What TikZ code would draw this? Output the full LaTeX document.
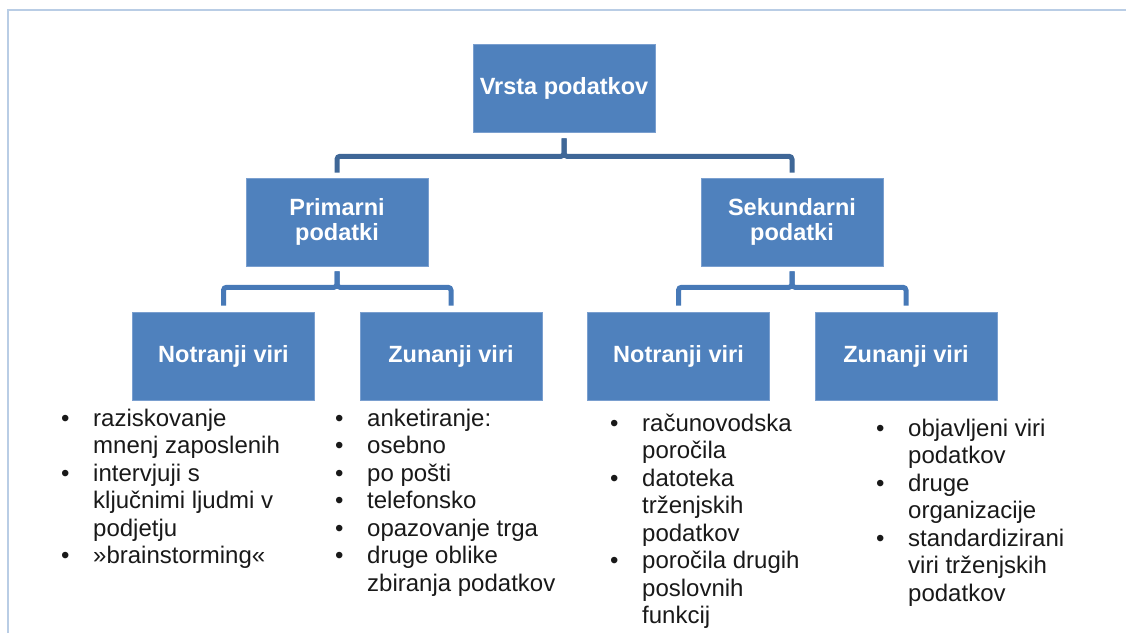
\documentclass[tikz,border=0pt]{standalone}
\usepackage{fontspec}
\setmainfont{Liberation Sans}
\usepackage{tikz}
\usetikzlibrary{positioning}

\definecolor{boxblue}{HTML}{4F81BD}
\definecolor{boxedge}{HTML}{7A9FCF}
\definecolor{toplink}{HTML}{3F6797}
\definecolor{lowlink}{HTML}{4779B7}
\definecolor{framecol}{HTML}{B9CDE5}

\newcommand{\itm}{\makebox[32pt][l]{\textbullet}}

\begin{document}
\begin{tikzpicture}[x=1pt,y=-1pt,node distance=227.5pt,
 box/.style={rectangle,draw=boxedge,line width=0.6pt,fill=boxblue,text=white,
   minimum width=182pt,minimum height=88pt,align=center,inner sep=0pt,
   font=\fontsize{23.5}{25.5}\selectfont\bfseries},
 list/.style={anchor=base west,inner sep=0pt,text=black!90,
   font=\fontsize{24}{27.5}\selectfont},
 top link/.style={draw=toplink,line width=5pt,rounded corners=3pt},
 low link/.style={draw=lowlink,line width=5pt,rounded corners=3pt}]
  \useasboundingbox (0,0) rectangle (1126,633);
  \draw[framecol,line width=2.5pt] (8,633) -- (8,10) -- (1126,10);

  \node[box] (1) at (564,88) {Vrsta podatkov};
  \node[box] (2) at (337,222) {Primarni\\podatki};
  \node[box] (3) [right of=2,node distance=455pt] {Sekundarni\\podatki};
  \node[box] (4) at (223.5,356) {Notranji viri};
  \node[box] (5) [right of=4] {Zunanji viri};
  \node[box] (6) [right of=5] {Notranji viri};
  \node[box] (7) [right of=6] {Zunanji viri};

  \foreach \s/\t in {1/2, 1/3} {
   \draw[top link] ([yshift=-6pt]\s.south) -- ([yshift=-24pt]\s.south) -| ([yshift=5pt]\t.north);}
  \foreach \s/\t in {2/4, 2/5, 3/6, 3/7} {
   \draw[low link] ([yshift=-5pt]\s.south) -- ([yshift=-21pt]\s.south) -| ([yshift=6pt]\t.north);}

  \node[list] (8) at (61,426) {\begin{tabular}[t]{@{}l@{}l@{}}
    \itm & raziskovanje\\ & mnenj zaposlenih\\
    \itm & intervjuji s\\ & ključnimi ljudmi v\\ & podjetju\\
    \itm & »brainstorming«\end{tabular}};
  \node[list] (9) at (335,426) {\begin{tabular}[t]{@{}l@{}l@{}}
    \itm & anketiranje:\\ \itm & osebno\\ \itm & po pošti\\
    \itm & telefonsko\\ \itm & opazovanje trga\\
    \itm & druge oblike\\ & zbiranja podatkov\end{tabular}};
  \node[list] (10) at (610,431) {\begin{tabular}[t]{@{}l@{}l@{}}
    \itm & računovodska\\ & poročila\\
    \itm & datoteka\\ & trženjskih\\ & podatkov\\
    \itm & poročila drugih\\ & poslovnih\\ & funkcij\end{tabular}};
  \node[list] (11) at (876,436) {\begin{tabular}[t]{@{}l@{}l@{}}
    \itm & objavljeni viri\\ & podatkov\\
    \itm & druge\\ & organizacije\\
    \itm & standardizirani\\ & viri trženjskih\\ & podatkov\end{tabular}};
\end{tikzpicture}
\end{document}
